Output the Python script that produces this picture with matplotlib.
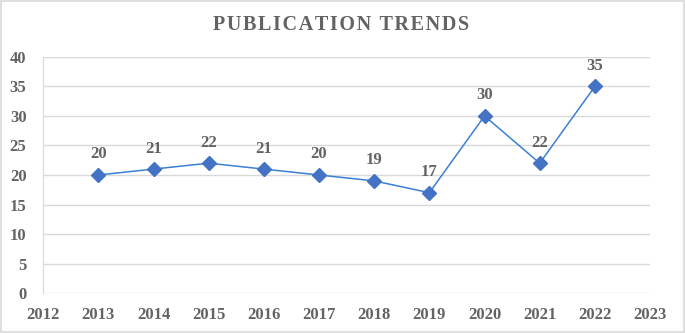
import matplotlib.pyplot as plt
from matplotlib.patches import Rectangle

years = [2013, 2014, 2015, 2016, 2017, 2018, 2019, 2020, 2021, 2022]
counts = [20, 21, 22, 21, 20, 19, 17, 30, 22, 35]
x_ticks = list(range(2012, 2024))
y_ticks = [0, 5, 10, 15, 20, 25, 30, 35, 40]

plt.rcParams['font.family'] = ['Liberation Serif', 'DejaVu Serif']
text_gray = '#636363'

fig = plt.figure(figsize=(6.85, 3.33), dpi=100)
ax = fig.add_axes([0.063, 0.12, 0.886, 0.709])

ax.plot(years, counts, color='#3A80D4', linewidth=1.1, marker='D',
        markersize=7, markerfacecolor='#4472C4', markeredgecolor='#4472C4')

for x, y in zip(years, counts):
    ax.annotate(str(y), (x, y), xytext=(0, 9), textcoords='offset points',
                ha='center', va='bottom', fontsize=12, fontweight='bold',
                color=text_gray)

ax.set_xlim(2012, 2023)
ax.set_ylim(0, 40)
ax.set_xticks(x_ticks)
ax.set_yticks(y_ticks)
ax.tick_params(axis='both', length=0, labelsize=12, labelcolor=text_gray)
ax.tick_params(axis='x', pad=10)
ax.tick_params(axis='y', pad=12)
for lbl in ax.get_xticklabels() + ax.get_yticklabels():
    lbl.set_fontweight('bold')

ax.grid(axis='y', color='#D9D9D9', linewidth=1)
ax.set_axisbelow(True)
for s in ['top', 'right', 'bottom']:
    ax.spines[s].set_visible(False)
ax.spines['left'].set_color('#D9D9D9')

title = '\u200a'.join('PUBLICATION TRENDS')
fig.text(0.498, 0.925, title, ha='center', va='center', fontsize=14.5,
         fontweight='bold', color=text_gray)

fig.patches.append(Rectangle((0.001, 0.002), 0.997, 0.995, transform=fig.transFigure,
                             fill=False, edgecolor='#D9D9D9', linewidth=1.2))

fig.savefig('out.png', dpi=100)
